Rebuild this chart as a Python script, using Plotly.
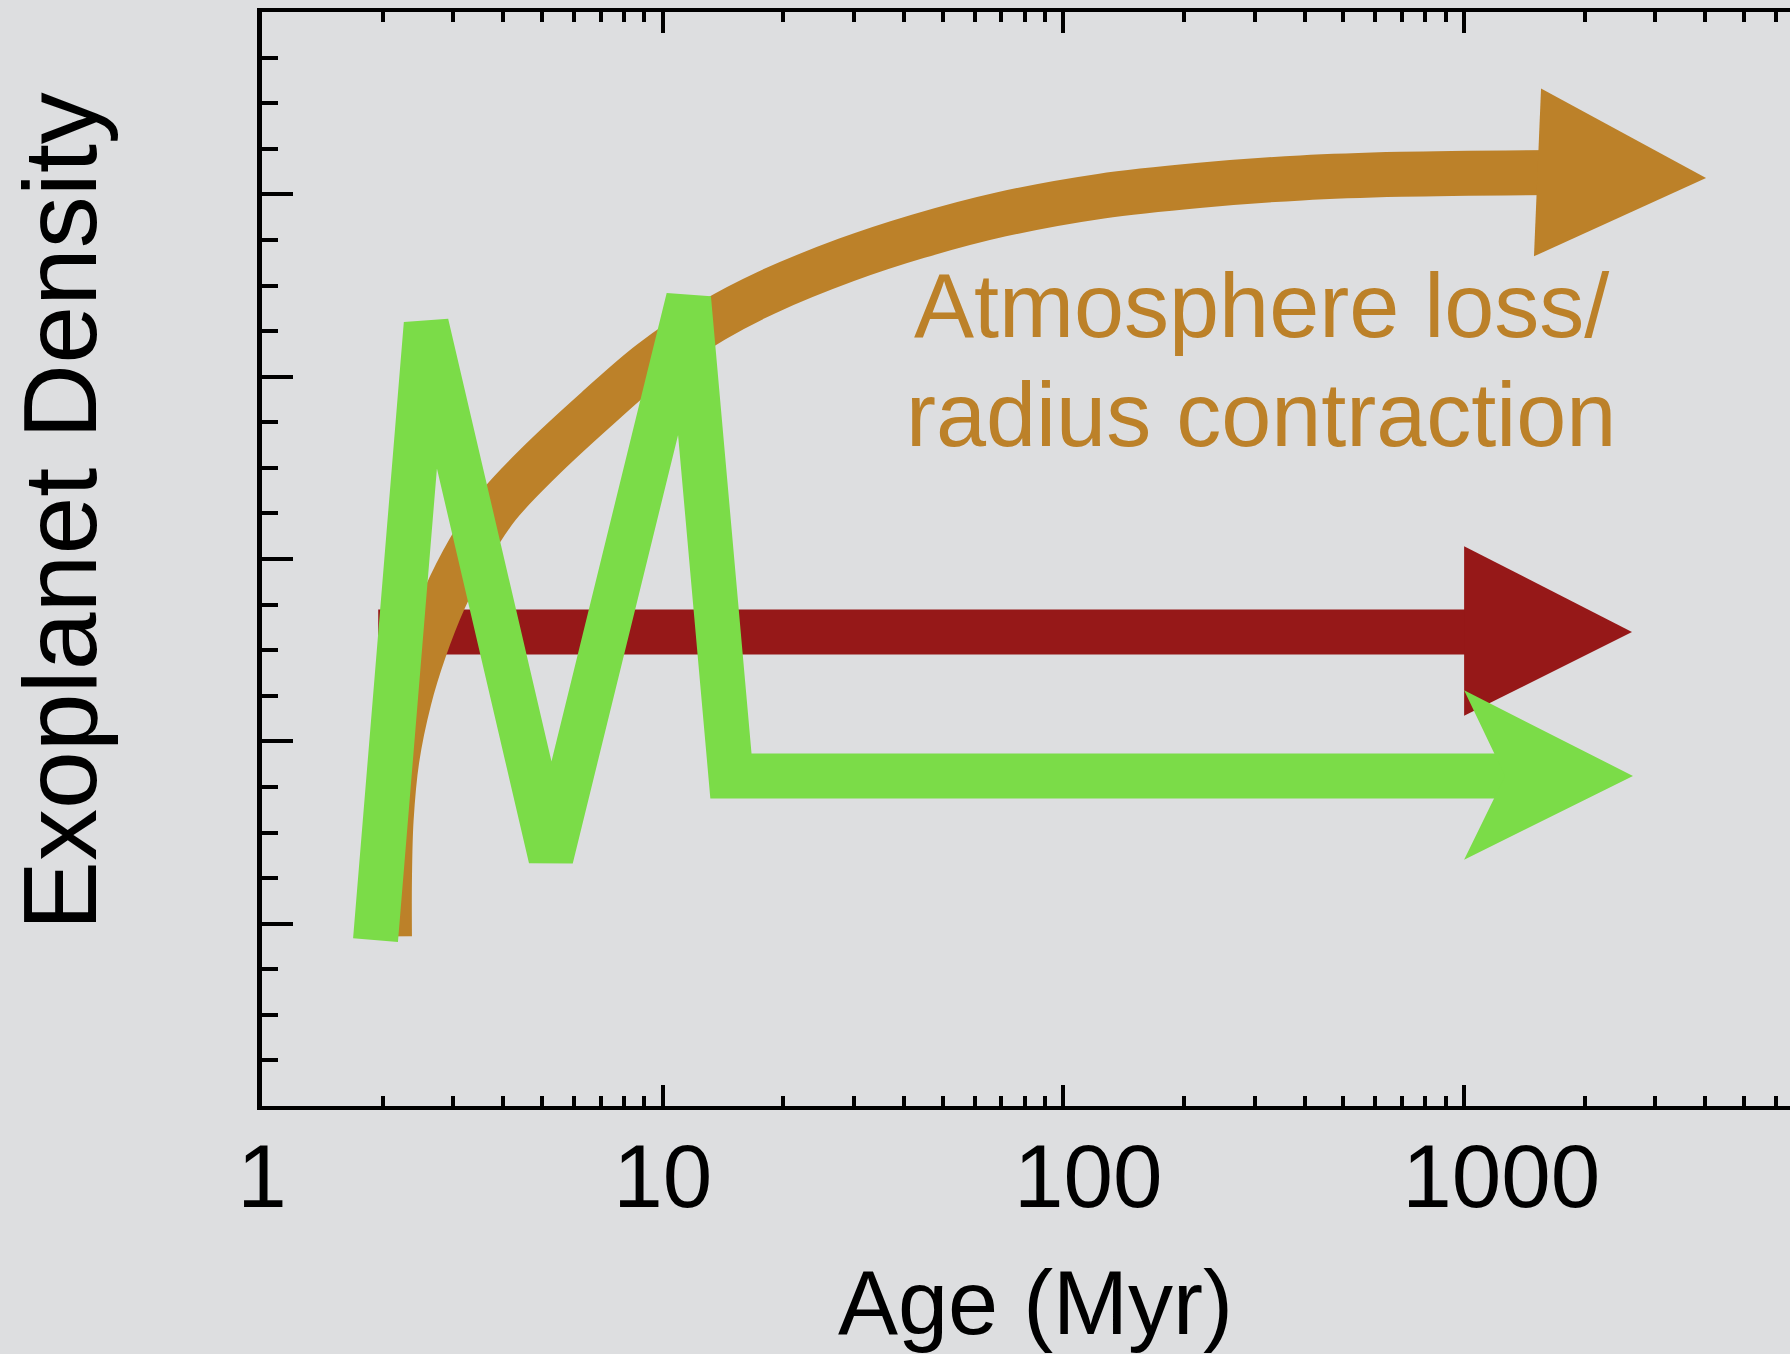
import plotly.graph_objects as go

# ages in Myr, density in arbitrary units (axis runs 0..6, no labels)
contraction_age = [2.08, 2.08, 2.10, 2.17, 2.33, 2.54, 2.85, 3.29, 3.88, 4.97, 6.82, 9.35,
                   13.4, 18.1, 28.7, 43.4, 69.9, 124, 220, 392, 696, 1745]
contraction_dens = [0.93, 1.24, 1.57, 1.90, 2.23, 2.50, 2.78, 3.05, 3.29, 3.54, 3.82, 4.08,
                    4.31, 4.46, 4.64, 4.77, 4.89, 4.99, 5.05, 5.09, 5.11, 5.12]
contraction_head_age = [1556, 4016, 1494]
contraction_head_dens = [5.58, 5.09, 4.66]

stable_age = [1.95, 1100]
stable_dens = [2.60, 2.60]
stable_head_age = [1000, 2624, 1000]
stable_head_dens = [3.07, 2.60, 2.14]

variable_age = [1.92, 2.57, 5.26, 11.6, 14.8, 1300]
variable_dens = [0.91, 4.29, 1.36, 4.43, 1.81, 1.81]
variable_head_age = [1000, 2639, 1000, 1265]
variable_head_dens = [2.28, 1.81, 1.35, 1.81]

x_tick_vals = [1, 10, 100, 1000]
x_tick_text = ["1", "10", "100", "1000"]
x_minor_vals = [m * 10 ** k for k in range(4) for m in range(2, 10)]
y_tick_vals = [0, 1, 2, 3, 4, 5, 6]
y_minor_vals = [i / 4 for i in range(25)]

BG = "#DDDEE0"
BROWN = "#BC8129"
RED = "#961818"
GREEN = "#7BDC48"
FONT = "Liberation Sans, Arial, Helvetica, sans-serif"
W = 45

# the original labels sit a little right of their ticks for the longer numbers
NB = "\u00a0"
pad = [0, 0, 2, 3]
x_labels = [NB * p + t for p, t in zip(pad, x_tick_text)]

fig = go.Figure()

# red: constant density
fig.add_trace(go.Scatter(x=stable_age, y=stable_dens, mode="lines",
                         line=dict(color=RED, width=W)))
fig.add_trace(go.Scatter(x=stable_head_age, y=stable_head_dens, mode="lines",
                         fill="toself", fillcolor=RED, line=dict(color=RED, width=0)))

# brown: atmosphere loss / contraction
fig.add_trace(go.Scatter(x=contraction_age, y=contraction_dens, mode="lines",
                         line=dict(color=BROWN, width=W, shape="spline", smoothing=1)))
fig.add_trace(go.Scatter(x=contraction_head_age, y=contraction_head_dens, mode="lines",
                         fill="toself", fillcolor=BROWN, line=dict(color=BROWN, width=0)))

# green: variable
fig.add_trace(go.Scatter(x=variable_age, y=variable_dens, mode="lines",
                         line=dict(color=GREEN, width=W)))
fig.add_trace(go.Scatter(x=variable_head_age, y=variable_head_dens, mode="lines",
                         fill="toself", fillcolor=GREEN, line=dict(color=GREEN, width=0)))

fig.update_layout(
    width=1790, height=1354,
    margin=dict(l=262, r=0, t=12, b=248, pad=0),
    paper_bgcolor=BG, plot_bgcolor=BG,
    showlegend=False,
    font=dict(family=FONT, color="black"),
    xaxis=dict(type="log", range=[0, 3.8133], showgrid=False, zeroline=False,
               showline=True, linewidth=4, linecolor="black", mirror="ticks",
               ticks="inside", ticklen=21, tickwidth=4, tickcolor="black",
               tickmode="array", tickvals=x_tick_vals, ticktext=x_labels,
               ticklabelstandoff=-10,
               tickfont=dict(size=89, family=FONT, color="black"),
               minor=dict(ticks="inside", ticklen=10, tickwidth=4, tickcolor="black",
                          tickmode="array", tickvals=x_minor_vals, showgrid=False)),
    yaxis=dict(range=[0, 6], showgrid=False, zeroline=False,
               showline=True, linewidth=5, linecolor="black",
               ticks="inside", ticklen=31, tickwidth=4, tickcolor="black",
               tickmode="array", tickvals=y_tick_vals, showticklabels=False,
               minor=dict(ticks="inside", ticklen=16, tickwidth=4, tickcolor="black",
                          tickmode="array", tickvals=y_minor_vals, showgrid=False)),
    yaxis2=dict(range=[0, 6], overlaying="y", side="right", anchor="free", position=1,
                showgrid=False, zeroline=False, showline=False,
                ticks="inside", ticklen=17, tickwidth=4, tickcolor="black",
                tickmode="array", tickvals=y_tick_vals, showticklabels=False,
                minor=dict(ticks="inside", ticklen=3, tickwidth=4, tickcolor="black",
                           tickmode="array", tickvals=y_minor_vals, showgrid=False)),
)

fig.add_annotation(text="Atmosphere loss/", xref="paper", yref="paper",
                   x=0.6538, y=0.7788, xanchor="center", yanchor="top", showarrow=False,
                   font=dict(size=90, family=FONT, color=BROWN))
fig.add_annotation(text="radius contraction", xref="paper", yref="paper",
                   x=0.6538, y=0.6792, xanchor="center", yanchor="top", showarrow=False,
                   font=dict(size=90, family=FONT, color=BROWN))
fig.add_annotation(text="Age (Myr)", xref="paper", yref="paper",
                   x=0.506, y=-0.1325, xanchor="center", yanchor="top", showarrow=False,
                   font=dict(size=90, family=FONT, color="black"))
fig.add_annotation(text="Exoplanet Density", xref="paper", yref="paper", textangle=-90,
                   x=-0.1319, y=0.5439, xanchor="center", yanchor="middle", showarrow=False,
                   font=dict(size=104, family=FONT, color="black"))

# page has a default 8px body margin; drop it so the figure sits at the window origin
fig.write_html("out.html", config={"displayModeBar": False}, post_script=(
    "document.body.style.margin='0';"
    "document.body.style.overflow='hidden';"
    "document.body.style.background='" + BG + "';"))
